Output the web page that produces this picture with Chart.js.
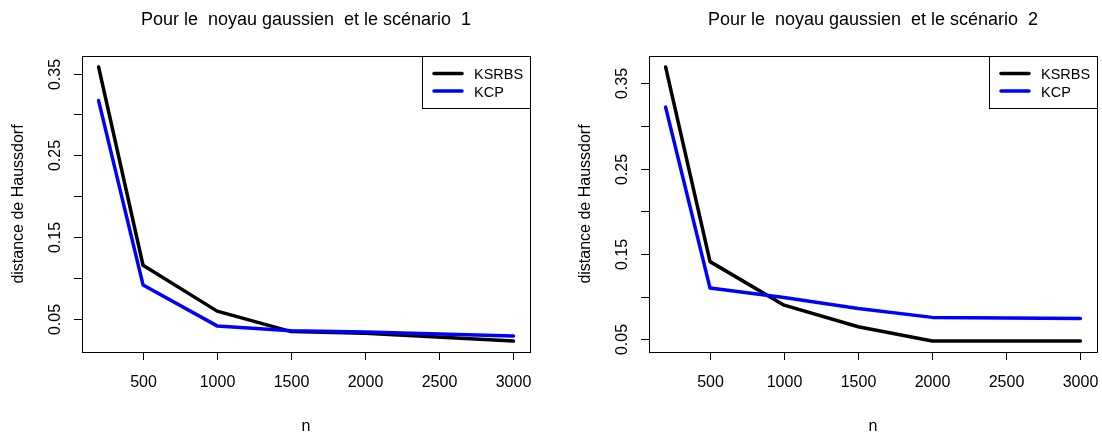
<!DOCTYPE html>
<html>
<head>
<meta charset="utf-8">
<script src="https://cdn.jsdelivr.net/npm/chart.js@4"></script>
<style>
  body { margin: 0; background: #fff; }
  canvas { position: absolute; top: 0; }
</style>
</head>
<body>
<canvas id="chart1" width="551" height="432" style="left:0px"></canvas>
<canvas id="chart2" width="551" height="432" style="left:551px"></canvas>
<script>
// sample sizes on the x axis
const nValues = [200, 500, 1000, 1500, 2000, 3000];

// scenario 1
const ksrbs1 = [0.358, 0.116, 0.060, 0.035, 0.033, 0.0235];
const kcp1 = [0.317, 0.092, 0.042, 0.036, 0.0345, 0.0296];

// scenario 2
const ksrbs2 = [0.369, 0.141, 0.090, 0.0647, 0.048, 0.048];
const kcp2 = [0.322, 0.110, 0.099, 0.086, 0.0757, 0.0745];

const xTicks = [500, 1000, 1500, 2000, 2500, 3000];
const yTicks = [0.05, 0.10, 0.15, 0.20, 0.25, 0.30, 0.35];
const yTickLabels = ['0.05', '', '0.15', '', '0.25', '', '0.35'];

const seriesNames = ['KSRBS', 'KCP'];
const seriesColors = ['#000000', '#0000ff'];

const FAMILY = '"Liberation Sans", Arial, Helvetica, sans-serif';
const FONT = '16px ' + FAMILY;
const TITLE_FONT = '18px ' + FAMILY;
const LEGEND_FONT = '14.5px ' + FAMILY;

// R style range: data range plus 4% on each side
function rRange(values) {
    const lo = Math.min(...values);
    const hi = Math.max(...values);
    const pad = (hi - lo) * 0.04;
    return { min: lo - pad, max: hi + pad };
}

// draws the R base-graphics decorations: box, ticks, labels, titles, legend
const rBase = {
    id: 'rBase',
    afterDraw(chart, args, opts) {
        const { ctx, chartArea: a, scales } = chart;
        const x = scales.x;
        const y = scales.y;
        ctx.save();
        ctx.strokeStyle = '#000';
        ctx.fillStyle = '#000';
        ctx.lineWidth = 1;
        ctx.font = FONT;

        // plot box
        ctx.strokeRect(a.left + 0.5, a.top + 0.5, a.right - a.left, a.bottom - a.top);

        // x axis
        ctx.textAlign = 'center';
        ctx.textBaseline = 'alphabetic';
        xTicks.forEach(v => {
            const px = Math.round(x.getPixelForValue(v)) + 0.5;
            ctx.beginPath();
            ctx.moveTo(px, a.bottom);
            ctx.lineTo(px, a.bottom + 8);
            ctx.stroke();
            ctx.fillText(String(v), px, a.bottom + 35);
        });

        // y axis
        yTicks.forEach((v, i) => {
            const py = Math.round(y.getPixelForValue(v)) + 0.5;
            ctx.beginPath();
            ctx.moveTo(a.left - 8, py);
            ctx.lineTo(a.left, py);
            ctx.stroke();
            if (yTickLabels[i]) {
                ctx.save();
                ctx.translate(a.left - 22, py);
                ctx.rotate(-Math.PI / 2);
                ctx.fillText(yTickLabels[i], 0, 0);
                ctx.restore();
            }
        });

        // axis titles
        const cx = (a.left + a.right) / 2;
        ctx.fillText('n', cx, 431);
        ctx.save();
        ctx.translate(a.left - 59.5, (a.top + a.bottom) / 2);
        ctx.rotate(-Math.PI / 2);
        ctx.fillText('distance de Haussdorf', 0, 0);
        ctx.restore();

        // main title
        ctx.font = TITLE_FONT;
        ctx.fillText(opts.title, cx, 25);

        // legend (top right)
        const bx = a.right - 108;
        const by = a.top;
        ctx.fillStyle = '#fff';
        ctx.fillRect(bx, by, 108, 52);
        ctx.strokeStyle = '#000';
        ctx.strokeRect(Math.round(bx) + 0.5, by + 0.5, 108, 52);
        ctx.font = LEGEND_FONT;
        ctx.textAlign = 'left';
        ctx.lineCap = 'round';
        seriesNames.forEach((name, i) => {
            const ly = by + 17.5 + i * 17.5;
            ctx.strokeStyle = seriesColors[i];
            ctx.lineWidth = 3.5;
            ctx.beginPath();
            ctx.moveTo(bx + 12, ly);
            ctx.lineTo(bx + 40, ly);
            ctx.stroke();
            ctx.fillStyle = '#000';
            ctx.fillText(name, bx + 52, ly + 5.5);
        });
        ctx.restore();
    }
};

function makeChart(canvasId, ksrbs, kcp, title, plotLeft, padRight) {
    const yr = rRange(ksrbs.concat(kcp));
    const xr = rRange(nValues);
    const series = [ksrbs, kcp];
    const datasets = series.map((vals, i) => ({
        label: seriesNames[i],
        data: nValues.map((n, j) => ({ x: n, y: vals[j] })),
        borderColor: seriesColors[i],
        borderWidth: 3.5,
        borderCapStyle: 'round',
        borderJoinStyle: 'round',
        pointRadius: 0,
        tension: 0,
        fill: false,
        order: i === 0 ? 1 : 0 // KCP drawn on top
    }));

    return new Chart(document.getElementById(canvasId), {
        type: 'line',
        data: { datasets: datasets },
        options: {
            responsive: false,
            animation: false,
            devicePixelRatio: 1,
            layout: { padding: { left: 0, right: padRight, top: 56, bottom: 0 } },
            plugins: {
                legend: { display: false },
                title: { display: false },
                tooltip: { enabled: false },
                rBase: { title: title }
            },
            scales: {
                x: {
                    type: 'linear',
                    min: xr.min,
                    max: xr.max,
                    grid: { display: false },
                    border: { display: false },
                    ticks: { display: false },
                    afterFit: scale => { scale.height = 80; }
                },
                y: {
                    type: 'linear',
                    min: yr.min,
                    max: yr.max,
                    grid: { display: false },
                    border: { display: false },
                    ticks: { display: false },
                    afterFit: scale => { scale.width = plotLeft; }
                }
            }
        },
        plugins: [rBase]
    });
}

makeChart('chart1', ksrbs1, kcp1, 'Pour le  noyau gaussien  et le scénario  1', 82, 21);
makeChart('chart2', ksrbs2, kcp2, 'Pour le  noyau gaussien  et le scénario  2', 98, 5);
</script>
</body>
</html>
